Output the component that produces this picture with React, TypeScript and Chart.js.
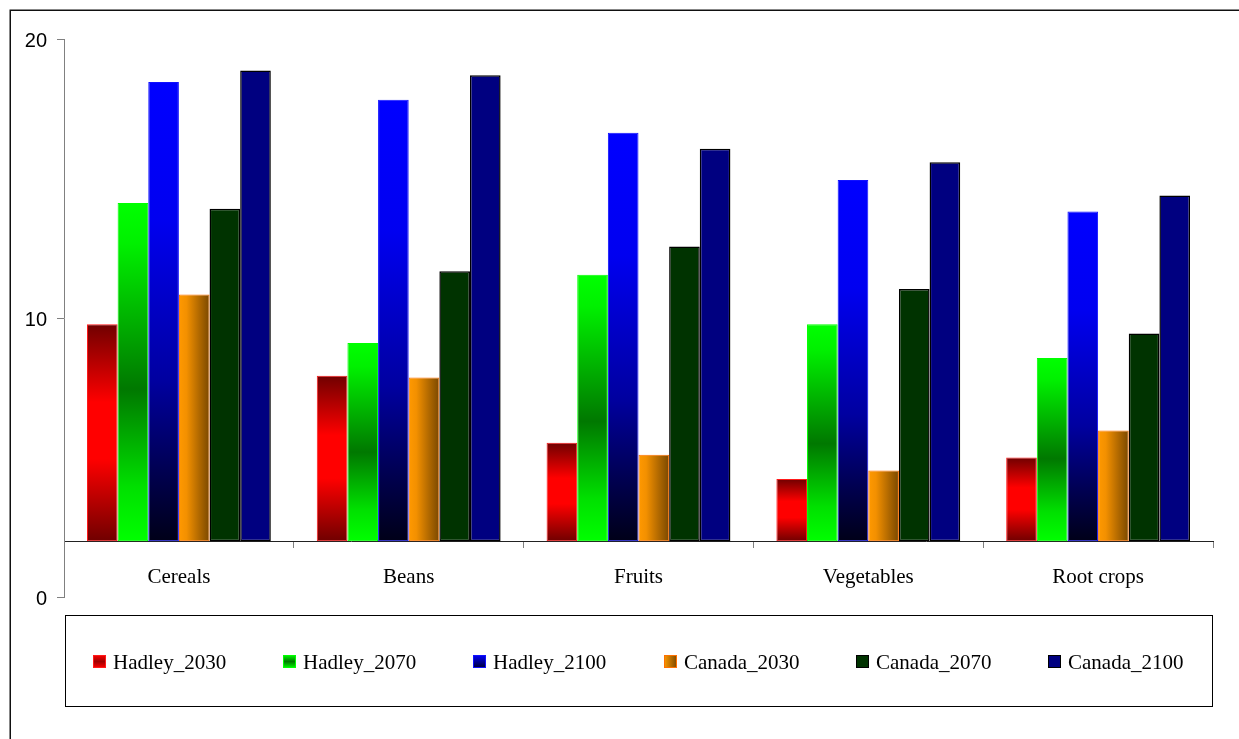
import React, { useEffect, useRef } from "react";
import { Chart, registerables } from "chart.js";

Chart.register(...registerables);

// ---- data ----
const categories = ["Cereals", "Beans", "Fruits", "Vegetables", "Root crops"];
const seriesNames = ["Hadley_2030", "Hadley_2070", "Hadley_2100", "Canada_2030", "Canada_2070", "Canada_2100"];
const hadley2030 = [9.78, 7.93, 5.53, 4.23, 5.0];
const hadley2070 = [14.12, 9.1, 11.55, 9.78, 8.57];
const hadley2100 = [18.46, 17.82, 16.64, 14.95, 13.82];
const canada2030 = [10.84, 7.87, 5.1, 4.53, 5.97];
const canada2070 = [13.92, 11.68, 12.56, 11.04, 9.44];
const canada2100 = [18.87, 18.7, 16.07, 15.58, 14.39];
const yTickValues = [0, 10, 20];
const floorValue = 2;

const seriesValues = [hadley2030, hadley2070, hadley2100, canada2030, canada2070, canada2100];

type Stop = [number, string];
interface SeriesStyle {
  dir?: "v" | "h";
  stops?: Stop[];
  solid?: string;
  border: string;
  bw: number;
  legendDir?: "v" | "h";
  legendStops?: Stop[];
}

const seriesStyles: SeriesStyle[] = [
  {
    dir: "v",
    stops: [[0, "#700000"], [0.36, "#ff0000"], [0.62, "#ff0000"], [1, "#700000"]],
    border: "#ff1a1a",
    bw: 1,
    legendDir: "v",
    legendStops: [[0, "#ff0000"], [0.5, "#a00000"], [1, "#ff0000"]],
  },
  {
    dir: "v",
    stops: [[0, "#00ff00"], [0.12, "#00f000"], [0.55, "#007800"], [0.84, "#00e000"], [1, "#00ff00"]],
    border: "#00ff00",
    bw: 1,
    legendDir: "v",
    legendStops: [[0, "#00ff00"], [0.5, "#007800"], [1, "#00ff00"]],
  },
  {
    dir: "v",
    stops: [[0, "#0000ff"], [0.3, "#0000f0"], [0.65, "#0000a0"], [0.85, "#000050"], [1, "#000018"]],
    border: "#1010ff",
    bw: 1,
    legendDir: "v",
    legendStops: [[0, "#0000ff"], [1, "#000030"]],
  },
  {
    dir: "h",
    stops: [[0, "#ff9900"], [0.25, "#f39000"], [1, "#7a4800"]],
    border: "#ff7000",
    bw: 1,
    legendDir: "h",
    legendStops: [[0, "#ff9900"], [1, "#7a4800"]],
  },
  { solid: "#003300", border: "#000000", bw: 1.5 },
  { solid: "#000080", border: "#000000", bw: 1.5 },
];

const SERIF = '"Liberation Serif", "Times New Roman", serif';
const SANS = '"Liberation Sans", Arial, sans-serif';

function makeGradient(ctx: CanvasRenderingContext2D, dir: "v" | "h", stops: Stop[], x0: number, y0: number, x1: number, y1: number) {
  const g = dir === "v" ? ctx.createLinearGradient(0, y0, 0, y1) : ctx.createLinearGradient(x0, 0, x1, 0);
  stops.forEach(([o, c]) => g.addColorStop(o, c));
  return g;
}

const framePlugin = {
  id: "outerFrame",
  beforeDraw(chart: any) {
    const ctx = chart.ctx as CanvasRenderingContext2D;
    ctx.save();
    ctx.fillStyle = "#ffffff";
    ctx.fillRect(0, 0, chart.width, chart.height);
    ctx.strokeStyle = "#111111";
    ctx.lineWidth = 1.5;
    ctx.strokeRect(10.25, 10.25, chart.width + 40, chart.height + 40);
    ctx.restore();
  },
};

const gradientPlugin = {
  id: "barGradients",
  beforeDatasetsDraw(chart: any) {
    const ctx = chart.ctx as CanvasRenderingContext2D;
    chart.data.datasets.forEach((_ds: any, di: number) => {
      const st = seriesStyles[di];
      if (!st.stops || !st.dir) return;
      const meta = chart.getDatasetMeta(di);
      meta.data.forEach((el: any) => {
        const { x, y, base, width } = el.getProps(["x", "y", "base", "width"], true);
        const g = makeGradient(ctx, st.dir!, st.stops!, x - width / 2, y, x + width / 2, base);
        el.options = Object.assign({}, el.options, { backgroundColor: g });
      });
    });
  },
};

const legendPlugin = {
  id: "boxedLegend",
  afterDraw(chart: any) {
    const ctx = chart.ctx as CanvasRenderingContext2D;
    const box = { left: 65, top: 615, right: 1212, bottom: 706 };
    ctx.save();
    ctx.strokeStyle = "#000000";
    ctx.lineWidth = 1;
    ctx.strokeRect(box.left + 0.5, box.top + 0.5, box.right - box.left, box.bottom - box.top);
    ctx.font = `21px ${SERIF}`;
    const marker = 13;
    const gapText = 7;
    const gapItem = 57;
    const labels: string[] = chart.data.datasets.map((d: any) => d.label);
    const widths = labels.map((l) => ctx.measureText(l).width);
    const total = widths.reduce((a, w) => a + marker + gapText + w, 0) + gapItem * (labels.length - 1);
    let x = (box.left + box.right) / 2 - total / 2;
    const my = 655;
    labels.forEach((label, i) => {
      const st = seriesStyles[i];
      const mx = Math.round(x);
      if (st.legendStops && st.legendDir) {
        ctx.fillStyle = makeGradient(ctx, st.legendDir, st.legendStops, mx, my, mx + marker, my + marker);
      } else {
        ctx.fillStyle = st.solid || "#000";
      }
      ctx.fillRect(mx, my, marker, marker);
      ctx.strokeStyle = st.border;
      ctx.lineWidth = 1;
      ctx.strokeRect(mx + 0.5, my + 0.5, marker - 1, marker - 1);
      ctx.fillStyle = "#000000";
      ctx.textBaseline = "alphabetic";
      ctx.textAlign = "left";
      ctx.fillText(label, mx + marker + gapText, 668.5);
      x += marker + gapText + widths[i] + gapItem;
    });
    ctx.restore();
  },
};

export default function App() {
  const canvasRef = useRef<HTMLCanvasElement | null>(null);

  useEffect(() => {
    document.body.style.margin = "0";
    document.body.style.overflow = "hidden";
    const canvas = canvasRef.current;
    if (!canvas) return;

    const datasets = seriesNames.map((name, i) => {
      const st = seriesStyles[i];
      return {
        label: name,
        data: seriesValues[i],
        base: floorValue,
        backgroundColor: st.solid || (st.stops ? st.stops[0][1] : "#000"),
        borderColor: st.border,
        borderWidth: st.bw,
        borderSkipped: false as any,
        categoryPercentage: 0.8,
        barPercentage: 1.0,
      };
    });

    const chart = new Chart(canvas, {
      type: "bar",
      data: { labels: categories, datasets },
      plugins: [framePlugin, gradientPlugin, legendPlugin],
      options: {
        animation: false,
        responsive: false,
        maintainAspectRatio: false,
        devicePixelRatio: 1,
        layout: { padding: { left: 0, top: 39, right: 26, bottom: 142 } },
        plugins: {
          legend: { display: false },
          tooltip: { enabled: false },
          title: { display: false },
        },
        scales: {
          x: {
            type: "category",
            position: { y: floorValue } as any,
            afterFit: (scale: any) => {
              scale.height = 0;
            },
            grid: {
              display: true,
              drawOnChartArea: false,
              drawTicks: true,
              tickLength: 6,
              color: "#808080",
              offset: true,
            },
            border: { display: true, color: "#222222", width: 1 },
            ticks: {
              color: "#000000",
              font: { family: SERIF, size: 21 },
              padding: 18,
              maxRotation: 0,
              autoSkip: false,
            },
          },
          y: {
            type: "linear",
            position: "left",
            min: 0,
            max: 20,
            afterFit: (scale: any) => {
              scale.width = 64;
            },
            afterBuildTicks: (scale: any) => {
              scale.ticks = yTickValues.map((v) => ({ value: v }));
            },
            grid: {
              display: true,
              drawOnChartArea: false,
              drawTicks: true,
              tickLength: 7,
              color: "#808080",
            },
            border: { display: true, color: "#808080", width: 1 },
            ticks: {
              color: "#000000",
              font: { family: SANS, size: 20 },
              padding: 10,
              labelOffset: 2,
            },
          },
        },
      },
    });

    return () => {
      chart.destroy();
    };
  }, []);

  return (
    <div style={{ width: 1239, height: 739, position: "relative" }}>
      <canvas ref={canvasRef} width={1239} height={739} style={{ display: "block" }} />
    </div>
  );
}
